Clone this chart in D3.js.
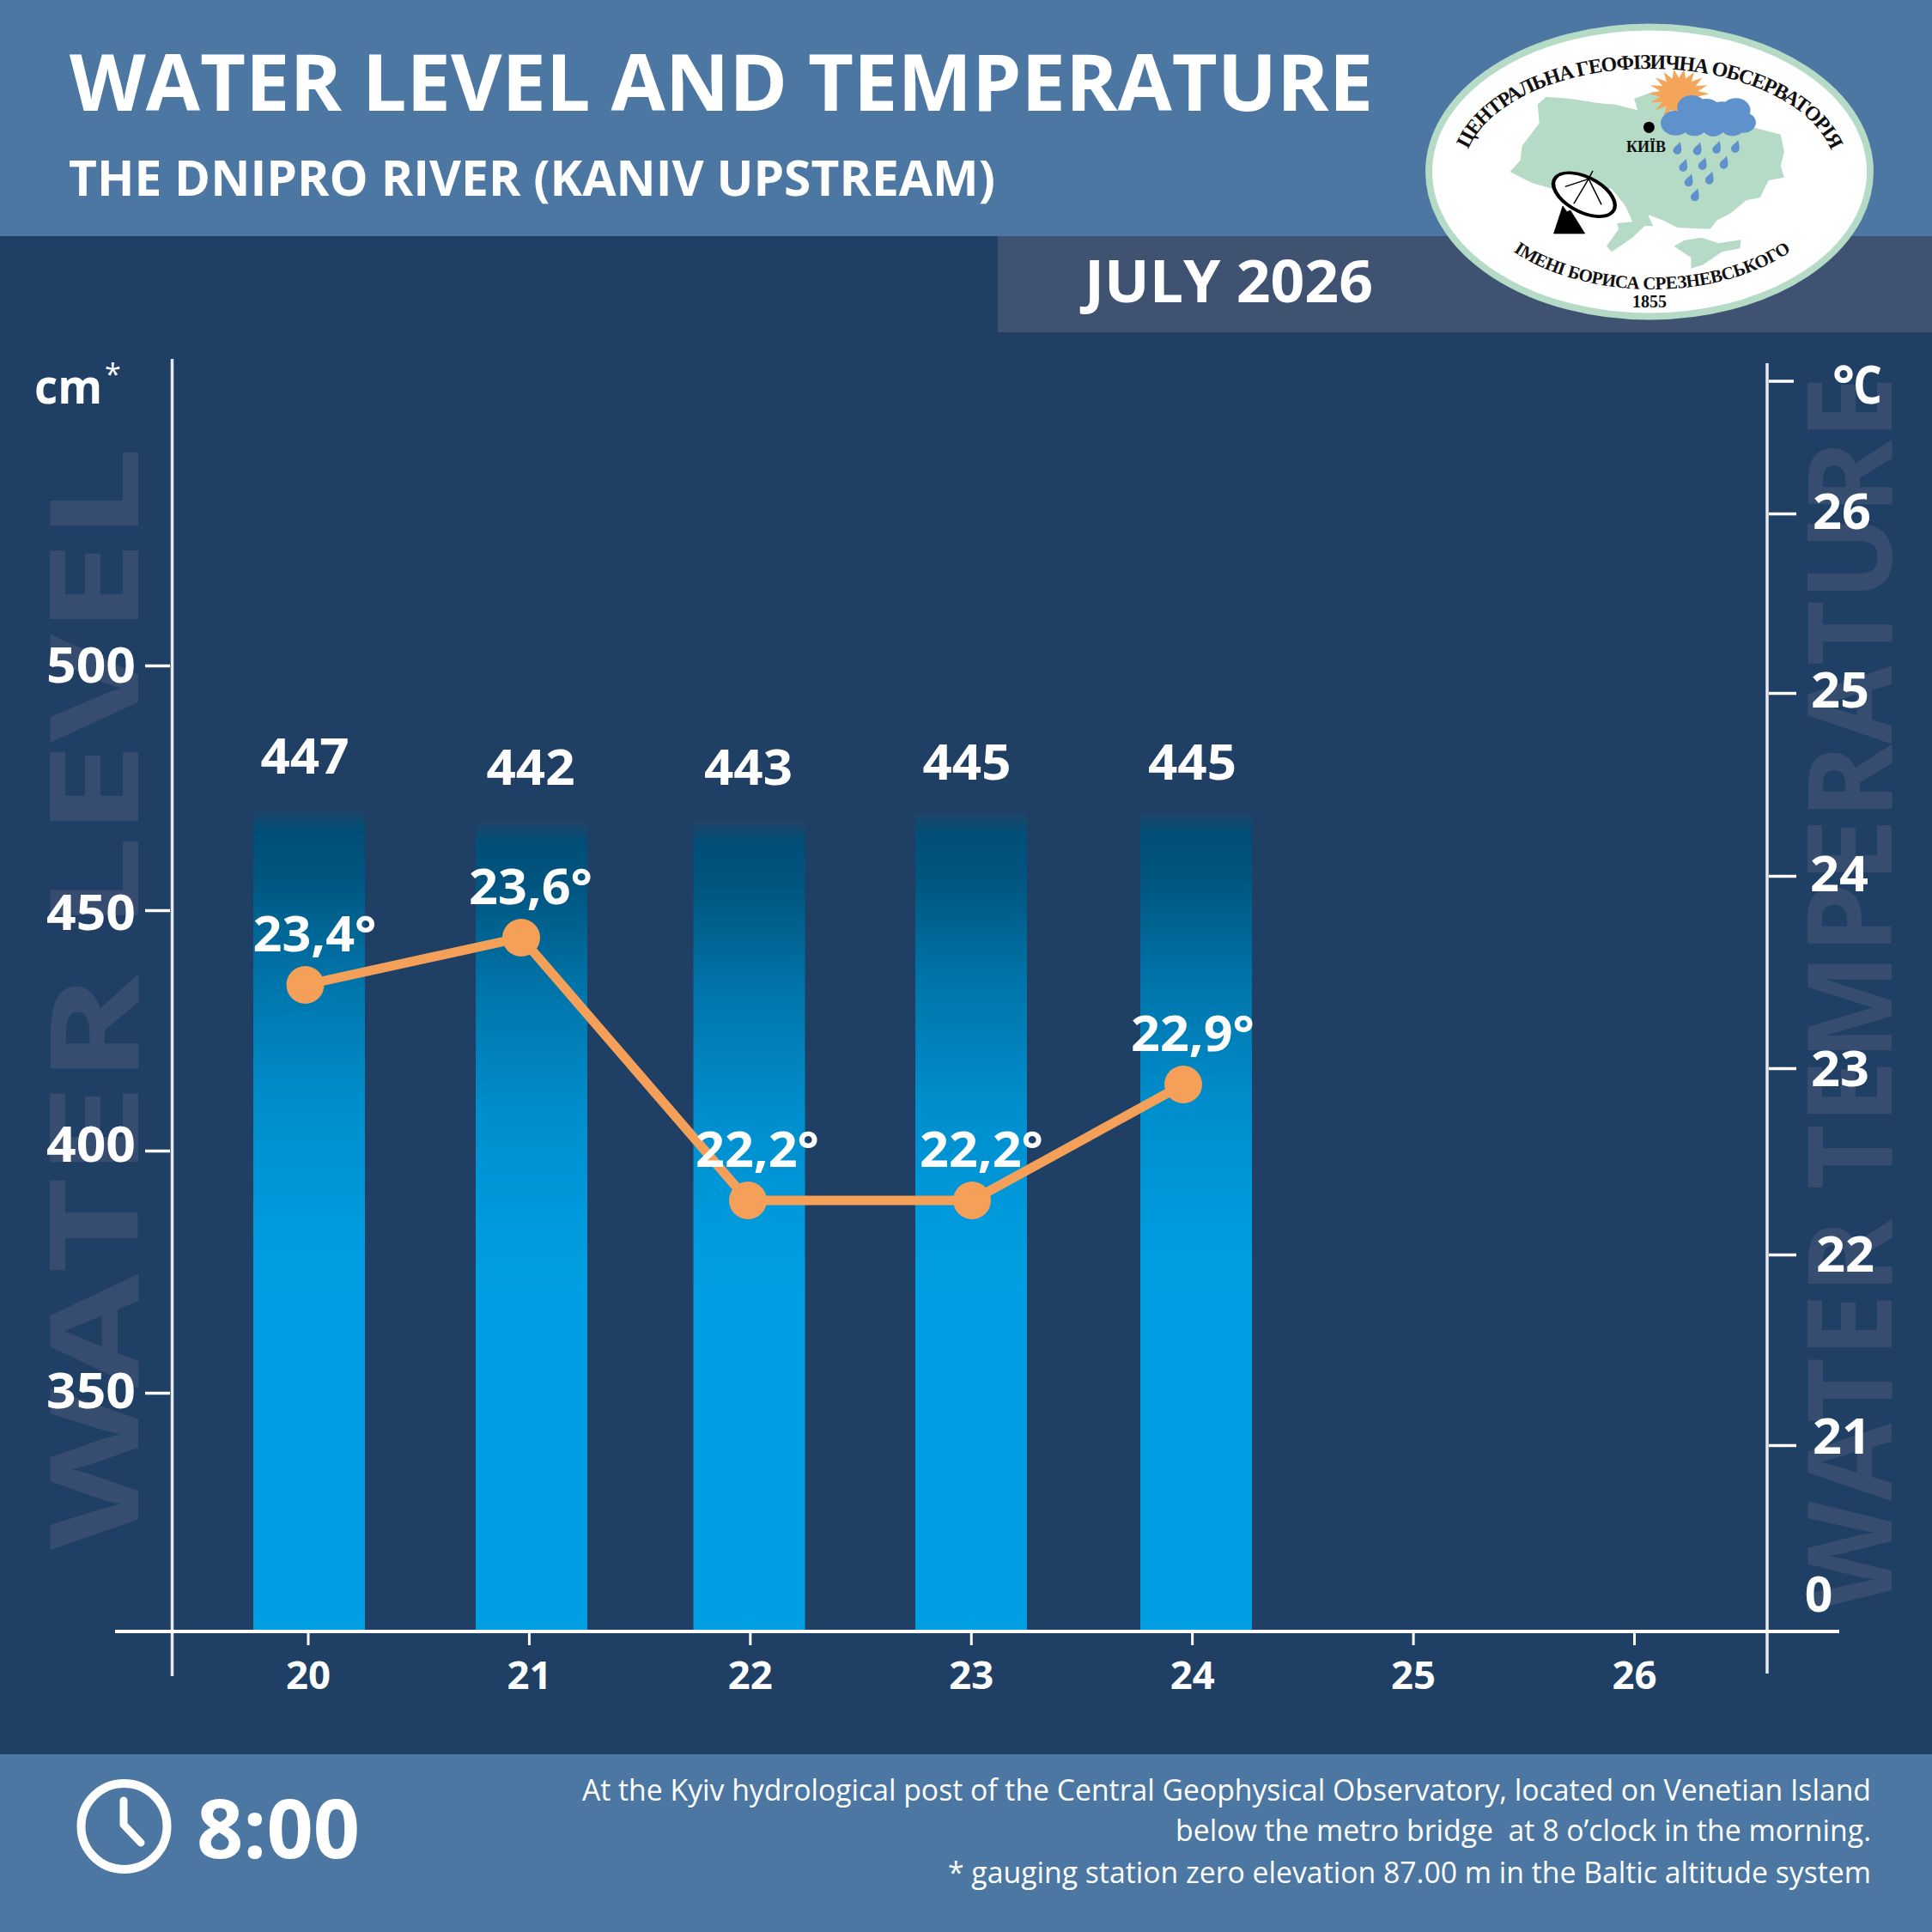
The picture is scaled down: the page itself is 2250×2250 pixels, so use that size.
<!DOCTYPE html>
<html>
<head>
<meta charset="utf-8">
<title>Water level and temperature</title>
<script src="https://cdn.jsdelivr.net/npm/d3@7"></script>
<style>
  html, body { margin: 0; padding: 0; background: #203f64; }
  svg { display: block; }
  text { font-family: "Open Sans", sans-serif; fill: #fff; }
</style>
</head>
<body>
<script>
// Observations at 8:00, one entry per day of the month
const days = [20, 21, 22, 23, 24];
const axisDays = [20, 21, 22, 23, 24, 25, 26];
const waterLevel = [447, 442, 443, 445, 445];
const waterTemp = [23.4, 23.6, 22.2, 22.2, 22.9];
const levelTicks = [350, 400, 450, 500];
const tempTicks = [21, 22, 23, 24, 25, 26];

const titleText = "WATER LEVEL AND TEMPERATURE";
const subtitleText = "THE DNIPRO RIVER (KANIV UPSTREAM)";
const monthText = "JULY 2026";
const noteLines = [
  "At the Kyiv hydrological post of the Central Geophysical Observatory, located on Venetian Island",
  "below the metro bridge  at 8 o\u2019clock in the morning.",
  "* gauging station zero elevation 87.00 m in the Baltic altitude system"
];

const BG = "#203f64", BAND = "#4b77a2", MONTH = "#3f5272", GHOST = "#364d6f", ORANGE = "#f4a059";
const BASE_Y = 1900;

const svg = d3.select("body").append("svg").attr("width", 2250).attr("height", 2250);
const defs = svg.append("defs");

// Shrinks or widens a text run to an exact printed width
function fit(sel, w) { return sel.attr("textLength", w).attr("lengthAdjust", "spacingAndGlyphs"); }

// Scales: the printed axes are not evenly spaced, so the vertical ones are piecewise
const dayX = d3.scaleLinear().domain([20, 26]).range([358.5, 1903]);
const barX = d3.scaleOrdinal().domain(days).range([360, 619, 872.5, 1131, 1393]);
const pointX = d3.scaleOrdinal().domain(days).range([355.5, 607, 871, 1132, 1378]);
const barLabelX = d3.scaleOrdinal().domain(days).range([355, 618, 871.5, 1126, 1388.5]);
const levelY = d3.scaleLinear().domain([350, 400, 450, 500]).range([1622, 1340, 1060, 775]);
const barY = d3.scaleLinear().domain([442, 443, 445, 447]).range([958, 958, 947, 944]);
const barLabelY = d3.scaleLinear().domain([442, 443, 445, 447]).range([914, 914, 908, 901]);
const tempY = d3.scaleLinear()
  .domain([21, 22, 22.2, 22.9, 23, 23.4, 23.6, 24, 25, 26])
  .range([1683, 1461, 1398, 1263, 1244, 1147, 1092, 1020, 807, 598]);

// Page bands
svg.append("rect").attr("width", 2250).attr("height", 2250).attr("fill", BG);
svg.append("rect").attr("width", 2250).attr("height", 275).attr("fill", BAND);
svg.append("rect").attr("x", 1162).attr("y", 275).attr("width", 1088).attr("height", 112).attr("fill", MONTH);
svg.append("rect").attr("y", 2043).attr("width", 2250).attr("height", 207).attr("fill", BAND);

// Header text
fit(svg.append("text").attr("x", 81).attr("y", 129).attr("font-size", 91).attr("font-weight", 700).text(titleText), 1518);
fit(svg.append("text").attr("x", 80).attr("y", 228).attr("font-size", 58).attr("font-weight", 700).text(subtitleText), 1079);
fit(svg.append("text").attr("x", 1263).attr("y", 352).attr("font-size", 68).attr("font-weight", 700).text(monthText), 336);

// Pale lettering behind the axes
fit(svg.append("text").attr("transform", "translate(161,1805) rotate(-90)")
  .attr("font-size", 144).attr("font-weight", 700).style("fill", GHOST).text("WATER LEVEL"), 1285);
fit(svg.append("text").attr("transform", "translate(2203,1876) rotate(-90)")
  .attr("font-size", 136).attr("font-weight", 700).style("fill", GHOST).text("WATER TEMPERATURE"), 1438);

// Bars with a top that fades into the background
const grad = defs.append("linearGradient").attr("id", "barFill").attr("x1", 0).attr("y1", 0).attr("x2", 0).attr("y2", 1);
[[0, "#1f4568"], [0.025, "#004e78"], [0.08, "#00557f"], [0.2, "#0073a8"], [0.36, "#008ecd"], [0.51, "#009bde"], [0.6, "#009fe3"], [1, "#009fe3"]]
  .forEach(([o, c]) => grad.append("stop").attr("offset", o).attr("stop-color", c));

const data = days.map((d, i) => ({ day: d, level: waterLevel[i], temp: waterTemp[i] }));
svg.append("g").selectAll("rect").data(data).join("rect")
  .attr("x", d => barX(d.day) - 65)
  .attr("width", 130)
  .attr("y", d => barY(d.level))
  .attr("height", d => BASE_Y - barY(d.level))
  .attr("fill", "url(#barFill)");

// Axis frame
const frame = svg.append("g").attr("stroke", "#fff");
frame.append("line").attr("x1", 200.5).attr("x2", 200.5).attr("y1", 418).attr("y2", 1952).attr("stroke-width", 3.5).attr("stroke", "#e6eaef");
frame.append("line").attr("x1", 2058).attr("x2", 2058).attr("y1", 423).attr("y2", 1949).attr("stroke-width", 3.5).attr("stroke", "#e6eaef");
frame.append("line").attr("x1", 134).attr("x2", 2142).attr("y1", BASE_Y).attr("y2", BASE_Y).attr("stroke-width", 4);
frame.append("line").attr("x1", 2060).attr("x2", 2089).attr("y1", 444).attr("y2", 444).attr("stroke-width", 3.5);

// Left axis; printed labels sit a little off their ticks
const leftLabelDy = d3.scaleOrdinal().domain(levelTicks).range([17, 12, 22, 19]);
const leftAxis = svg.append("g").attr("transform", "translate(198,0)")
  .call(d3.axisLeft(levelY).tickValues(levelTicks).tickSize(29).tickPadding(11).tickFormat(d3.format("d")));
leftAxis.select(".domain").remove();
leftAxis.selectAll("line").attr("stroke", "#fff").attr("stroke-width", 3.5);
leftAxis.selectAll("text").attr("dy", d => leftLabelDy(d)).attr("font-size", 57).attr("font-weight", 700)
  .style("font-family", "'Open Sans', sans-serif").attr("textLength", 104).attr("lengthAdjust", "spacingAndGlyphs");

// Right axis
const rightLabelDx = d3.scaleOrdinal().domain(tempTicks).range([2, 6, 0, -1, 0, 2]);
const rightLabelDy = d3.scaleOrdinal().domain(tempTicks).range([9, 19, 20, 17, 16, 17]);
const rightAxis = svg.append("g").attr("transform", "translate(2060,0)")
  .call(d3.axisRight(tempY).tickValues(tempTicks).tickSize(32).tickPadding(52).tickFormat(d3.format("d")));
rightAxis.select(".domain").remove();
rightAxis.selectAll("line").attr("stroke", "#fff").attr("stroke-width", 3.5);
rightAxis.selectAll("text").attr("dy", d => rightLabelDy(d)).attr("font-size", 57).attr("font-weight", 700)
  .attr("text-anchor", "middle").attr("dx", d => rightLabelDx(d) - 1)
  .style("font-family", "'Open Sans', sans-serif").attr("textLength", 68).attr("lengthAdjust", "spacingAndGlyphs");

// Day axis
const bottomAxis = svg.append("g").attr("transform", `translate(0,${BASE_Y + 2})`)
  .call(d3.axisBottom(dayX).tickValues(axisDays).tickSize(14).tickPadding(16).tickFormat(d3.format("d")));
bottomAxis.select(".domain").remove();
bottomAxis.selectAll("line").attr("stroke", "#fff").attr("stroke-width", 3);
bottomAxis.selectAll("text").attr("dy", null).attr("y", 65).attr("font-size", 44).attr("font-weight", 700)
  .style("font-family", "'Open Sans', sans-serif").attr("textLength", 52).attr("lengthAdjust", "spacingAndGlyphs");

// Units and the zero mark
svg.append("text").attr("x", 40).attr("y", 470).attr("font-size", 56).attr("font-weight", 700).attr("textLength", 79).attr("lengthAdjust", "spacingAndGlyphs").text("cm");
svg.append("text").attr("x", 122).attr("y", 448).attr("font-size", 34).attr("font-weight", 400).text("*");
svg.append("text").attr("x", 2134).attr("y", 470).attr("font-size", 60).attr("font-weight", 700).attr("textLength", 26).attr("lengthAdjust", "spacingAndGlyphs").text("°");
svg.append("text").attr("x", 2158).attr("y", 470).attr("font-size", 60).attr("font-weight", 700).attr("textLength", 34).attr("lengthAdjust", "spacingAndGlyphs").text("C");
svg.append("text").attr("x", 2118).attr("y", 1877).attr("text-anchor", "middle").attr("font-size", 57).attr("font-weight", 700).text("0");

// Level values above the bars
svg.append("g").selectAll("text").data(data).join("text")
  .attr("x", d => barLabelX(d.day))
  .attr("y", d => barLabelY(d.level))
  .attr("text-anchor", "middle").attr("font-size", 57).attr("font-weight", 700)
  .attr("textLength", 103).attr("lengthAdjust", "spacingAndGlyphs")
  .text(d => d.level);

// Temperature line
svg.append("path").datum(data)
  .attr("fill", "none").attr("stroke", ORANGE).attr("stroke-width", 11)
  .attr("d", d3.line().x(d => pointX(d.day)).y(d => tempY(d.temp)));
svg.append("g").selectAll("circle").data(data).join("circle")
  .attr("cx", d => pointX(d.day)).attr("cy", d => tempY(d.temp)).attr("r", 22).attr("fill", ORANGE);
svg.append("g").selectAll("text").data(data).join("text")
  .attr("x", d => pointX(d.day) + 11)
  .attr("y", d => tempY(d.temp) - 39)
  .attr("text-anchor", "middle").attr("font-size", 57).attr("font-weight", 700)
  .attr("textLength", 144).attr("lengthAdjust", "spacingAndGlyphs")
  .text(d => String(d.temp).replace(".", ",") + "°");

// Footer: clock, hour and notes
const clock = svg.append("g").attr("fill", "none").attr("stroke", "#fff");
clock.append("circle").attr("cx", 144.5).attr("cy", 2127).attr("r", 50).attr("stroke-width", 10);
clock.append("path").attr("d", "M144,2097V2125L164,2146").attr("stroke-width", 9).attr("stroke-linecap", "round").attr("stroke-linejoin", "round");
fit(svg.append("text").attr("x", 229).attr("y", 2164).attr("font-size", 95).attr("font-weight", 700).text("8:00"), 190);

const noteY = [2097, 2144, 2193], noteW = [1501, 810, 1075];
svg.append("g").selectAll("text").data(noteLines).join("text")
  .attr("x", (d, i) => 2179 - noteW[i]).attr("y", (d, i) => noteY[i])
  .attr("font-size", 35).attr("font-weight", 400)
  .attr("xml:space", "preserve").style("white-space", "pre")
  .attr("textLength", (d, i) => noteW[i]).attr("lengthAdjust", "spacingAndGlyphs")
  .text(d => d);

// Observatory emblem
const ukraine = [[425,365],[450,338],[520,345],[600,360],[650,365],[715,385],[705,345],[760,320],[800,320],[860,360],[950,430],[1050,445],[1130,470],[1140,530],[1130,580],[1140,620],[1095,630],[1070,690],[1030,700],[985,745],[945,770],[925,800],[880,798],[830,795],[790,770],[745,750],[760,790],[735,790],[700,830],[640,880],[625,860],[660,800],[655,780],[700,775],[680,720],[640,660],[590,650],[470,660],[410,640],[345,600],[375,560],[380,510],[430,430]];
const crimea = [[820,860],[850,840],[900,830],[950,850],[1015,838],[1012,868],[960,880],[905,925],[870,938],[870,900],[845,880]];
const cloudLobes = [[825,430,43],[872,375,42],[915,390,45],[960,395,40],[1000,385,42],[1022,428,36],[880,440,35],[935,445,32],[990,440,35]];
const drops = [[830,518],[888,520],[944,515],[998,512],[847,578],[903,572],[965,568],[863,630],[923,622],[881,681]];

svg.append("ellipse").attr("cx", 1921).attr("cy", 200).attr("rx", 257).attr("ry", 168.5).attr("fill", "#fff").attr("stroke", "#b5dbc6").attr("stroke-width", 8);

const emblem = svg.append("g").attr("transform", "translate(1620,0) scale(0.4016,0.3333)");
const outline = d3.line().curve(d3.curveLinearClosed);
emblem.append("path").attr("d", outline(ukraine)).attr("fill", "#b5dbc6");
emblem.append("path").attr("d", outline(crimea)).attr("fill", "#b5dbc6");

const sunPts = d3.range(36).map(i => {
  const a = i / 36 * 2 * Math.PI, r = i % 2 ? 56 : 88;
  return [835 + r * Math.cos(a), 328 + r * Math.sin(a)];
});
emblem.append("path").attr("d", outline(sunPts)).attr("fill", "#f4a55a");
emblem.append("g").attr("fill", "#5f92cd").selectAll("circle").data(cloudLobes).join("circle")
  .attr("cx", d => d[0]).attr("cy", d => d[1]).attr("r", d => d[2]);
emblem.append("g").attr("fill", "#5f92cd").selectAll("path").data(drops).join("path")
  .attr("transform", d => `translate(${d[0]},${d[1]})`)
  .attr("d", "M8,-24C4,-12 -12,-6 -12,8A12,14 0 0 0 12,8C13,-4 10,-14 8,-24Z");
emblem.append("ellipse").attr("cx", 748).attr("cy", 445).attr("rx", 16).attr("ry", 20).attr("fill", "#000");

// Radio dish
const dish = emblem.append("g").attr("fill", "none").attr("stroke", "#000");
dish.append("path").attr("d", "M498,720L472,816H562L520,735L510,740Z").attr("fill", "#000").attr("stroke-width", 2);
dish.append("ellipse").attr("cx", 560).attr("cy", 680).attr("rx", 102).attr("ry", 58)
  .attr("transform", "rotate(36 560 680)").attr("fill", "#fff").attr("stroke-width", 11);
dish.append("path").attr("d", "M573,625L505,652M573,625L530,712M573,625L610,715M573,625L585,597").attr("stroke-width", 4);

// Emblem lettering set along the oval
defs.append("path").attr("id", "arcTop").attr("d", "M1705,200A216,120 0 0 1 2137,200");
defs.append("path").attr("id", "arcBottom").attr("d", "M1704,200A220,137 0 0 0 2144,200");
const serif = "'Liberation Serif', serif";
svg.append("text").style("fill", "#111").style("font-family", serif).attr("font-size", 24).attr("font-weight", 700).attr("letter-spacing", -1.4)
  .append("textPath").attr("href", "#arcTop").attr("startOffset", "50%").attr("text-anchor", "middle").text("ЦЕНТРАЛЬНА ГЕОФІЗИЧНА ОБСЕРВАТОРІЯ");
svg.append("text").style("fill", "#111").style("font-family", serif).attr("font-size", 21).attr("font-weight", 700).attr("letter-spacing", -0.5)
  .append("textPath").attr("href", "#arcBottom").attr("startOffset", "50%").attr("text-anchor", "middle").text("ІМЕНІ БОРИСА СРЕЗНЕВСЬКОГО");
svg.append("text").attr("x", 1921).attr("y", 358).attr("text-anchor", "middle").style("fill", "#111").style("font-family", serif).attr("font-size", 20).attr("font-weight", 700).text("1855");
svg.append("text").attr("x", 1917).attr("y", 177).attr("text-anchor", "middle").style("fill", "#111").style("font-family", serif).attr("font-size", 18).attr("font-weight", 700).text("КИЇВ");
</script>
</body>
</html>
